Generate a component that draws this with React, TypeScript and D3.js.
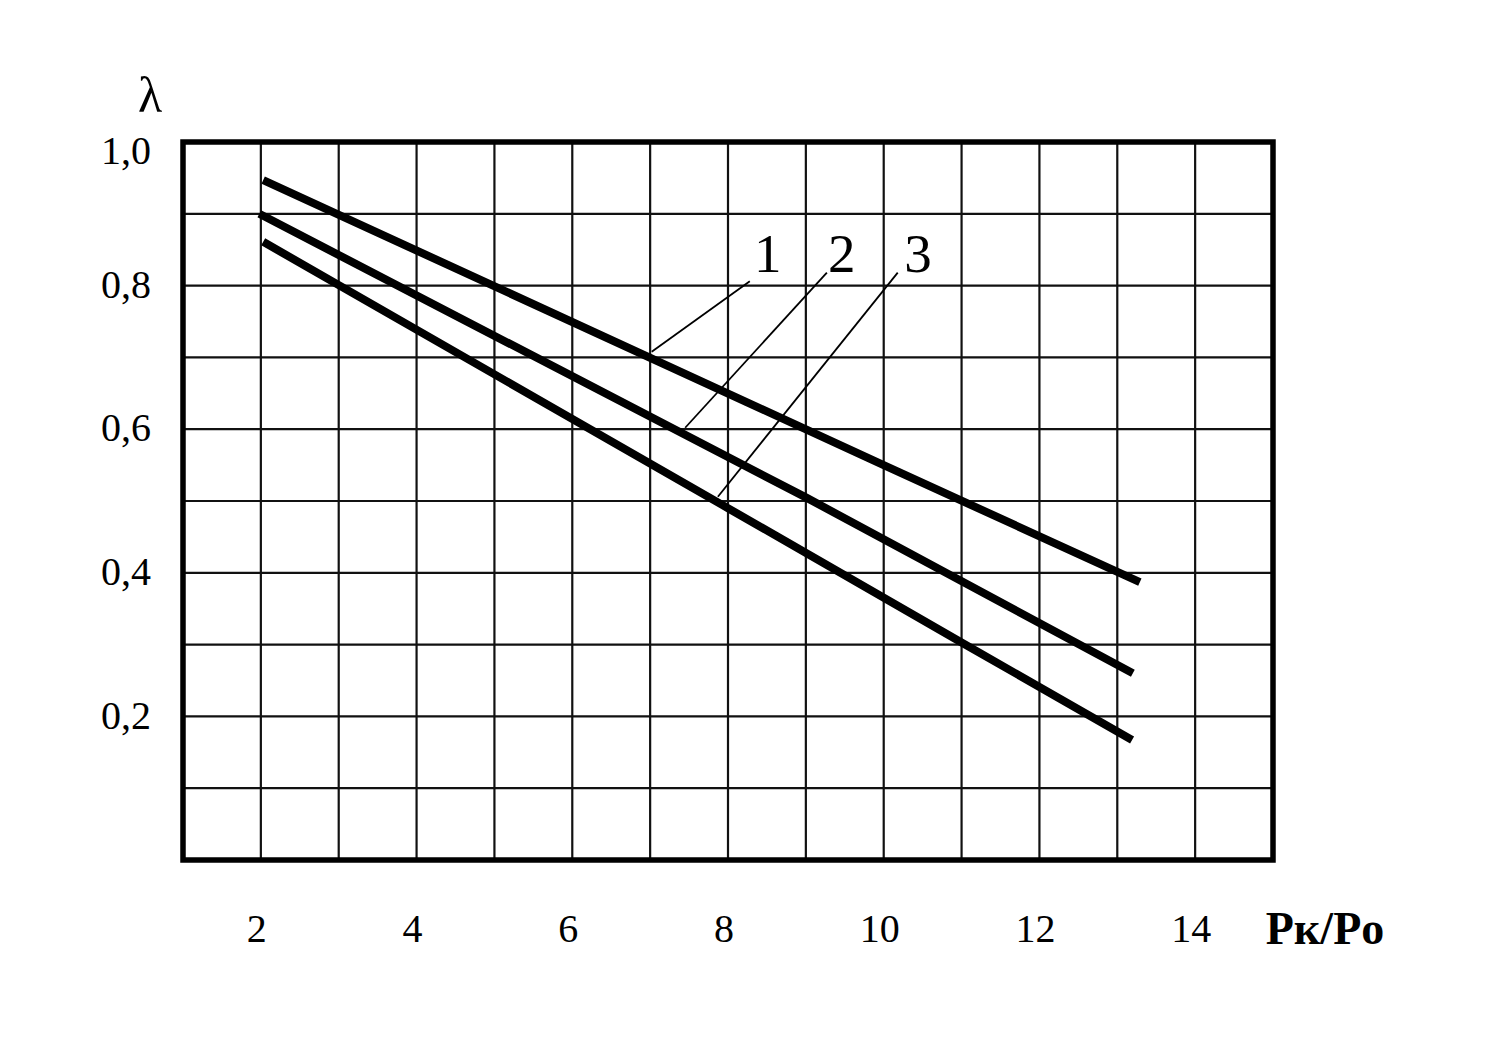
import React from "react";
import * as d3 from "d3";

const xGrid = [2, 3, 4, 5, 6, 7, 8, 9, 10, 11, 12, 13, 14];
const yGrid = [0.1, 0.2, 0.3, 0.4, 0.5, 0.6, 0.7, 0.8, 0.9];
const xTicks = [2, 4, 6, 8, 10, 12, 14];
const yTicks = [0.2, 0.4, 0.6, 0.8, 1.0];
const yTickLabels = ["0,2", "0,4", "0,6", "0,8", "1,0"];

const curve1 = [
  { x: 2.03, y: 0.947 },
  { x: 10, y: 0.55 },
  { x: 13.29, y: 0.387 },
];
const curve2 = [
  { x: 1.98, y: 0.9 },
  { x: 9, y: 0.505 },
  { x: 13.2, y: 0.26 },
];
const curve3 = [
  { x: 2.03, y: 0.861 },
  { x: 8, y: 0.49 },
  { x: 11, y: 0.303 },
  { x: 13.19, y: 0.167 },
];
const curves = [curve1, curve2, curve3];

const curveLabels = ["1", "2", "3"];
const labelPos = [
  { x: 8.51, y: 0.819 },
  { x: 9.46, y: 0.819 },
  { x: 10.44, y: 0.819 },
];
const leaderStart = [
  { x: 8.28, y: 0.806 },
  { x: 9.27, y: 0.818 },
  { x: 10.18, y: 0.818 },
];
const leaderEnd = [
  { x: 7.02, y: 0.708 },
  { x: 7.45, y: 0.602 },
  { x: 7.87, y: 0.506 },
];

export default function App() {
  const W = 1490;
  const H = 1051;
  const x = d3.scaleLinear().domain([1, 15]).range([183, 1273]);
  const y = d3.scaleLinear().domain([0, 1]).range([860, 142]);
  const line = d3
    .line<{ x: number; y: number }>()
    .x((d) => x(d.x))
    .y((d) => y(d.y));
  const serif = "'Liberation Serif', 'DejaVu Serif', serif";

  return (
    <svg
      width={W}
      height={H}
      style={{ position: "absolute", left: 0, top: 0, display: "block", background: "#fff" }}
    >
      <rect x={0} y={0} width={W} height={H} fill="#fff" />
      {xGrid.map((g) => (
        <line key={"vx" + g} x1={x(g)} x2={x(g)} y1={y(1)} y2={y(0)} stroke="#111" strokeWidth={2.2} />
      ))}
      {yGrid.map((g) => (
        <line key={"hy" + g} x1={x(1)} x2={x(15)} y1={y(g)} y2={y(g)} stroke="#111" strokeWidth={2.2} />
      ))}
      <rect
        x={x(1)}
        y={y(1)}
        width={x(15) - x(1)}
        height={y(0) - y(1)}
        fill="none"
        stroke="#000"
        strokeWidth={5.5}
      />
      {curves.map((c, i) => (
        <path key={"c" + i} d={line(c) || ""} fill="none" stroke="#000" strokeWidth={8} strokeLinecap="butt" />
      ))}
      {leaderStart.map((s, i) => (
        <line
          key={"ld" + i}
          x1={x(s.x)}
          y1={y(s.y)}
          x2={x(leaderEnd[i].x)}
          y2={y(leaderEnd[i].y)}
          stroke="#000"
          strokeWidth={1.8}
        />
      ))}
      {curveLabels.map((t, i) => (
        <text
          key={"cl" + i}
          x={x(labelPos[i].x)}
          y={y(labelPos[i].y)}
          textAnchor="middle"
          fontFamily={serif}
          fontSize={55}
          fill="#000"
        >
          {t}
        </text>
      ))}
      {xTicks.map((t) => (
        <text
          key={"xt" + t}
          x={x(t) - 4}
          y={942}
          textAnchor="middle"
          fontFamily={serif}
          fontSize={40}
          fill="#000"
        >
          {t}
        </text>
      ))}
      {yTicks.map((t, i) => (
        <text
          key={"yt" + t}
          x={151}
          y={y(t) + (t === 1 ? 13 : 3)}
          textAnchor="end"
          dominantBaseline="middle"
          fontFamily={serif}
          fontSize={40}
          fill="#000"
        >
          {yTickLabels[i]}
        </text>
      ))}
      <text x={150} y={112} textAnchor="middle" fontFamily={serif} fontSize={50} fill="#000">
        λ
      </text>
      <text x={1325} y={944} textAnchor="middle" fontFamily={serif} fontSize={46} fontWeight="bold" fill="#000">
        Pк/Po
      </text>
    </svg>
  );
}
